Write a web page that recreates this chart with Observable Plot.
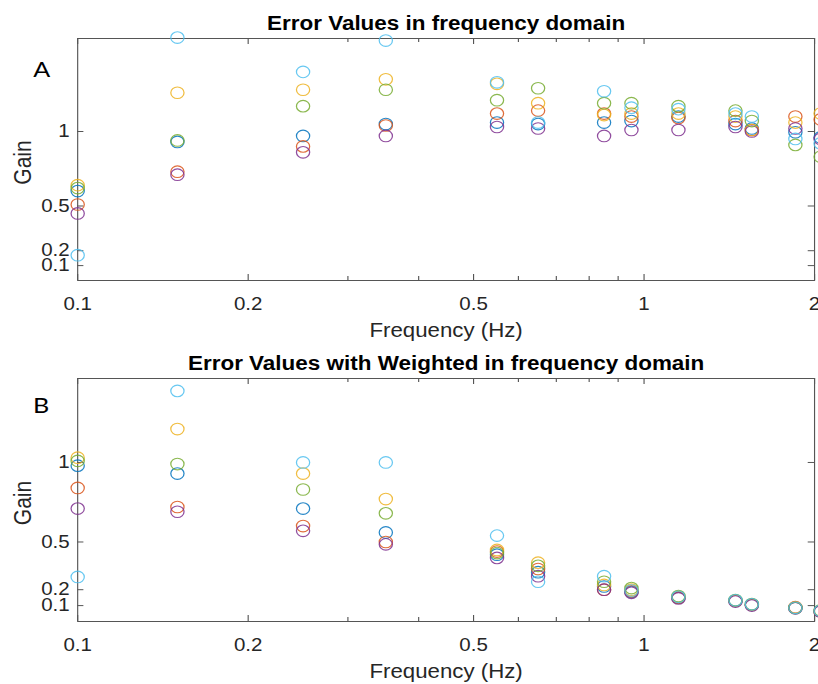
<!DOCTYPE html>
<html>
<head>
<meta charset="utf-8">
<script src="https://cdn.jsdelivr.net/npm/d3@7"></script>
<script src="https://cdn.jsdelivr.net/npm/@observablehq/plot@0.6"></script>
<style>
  html, body { margin: 0; padding: 0; background: #fff; overflow: hidden; }
  #chart { width: 818px; height: 684px; position: relative; }
  #chart svg { display: block; }
</style>
</head>
<body>
<div id="chart"></div>
<script>
// Test frequencies (Hz)
const freqs = [0.1, 0.15, 0.25, 0.35, 0.55, 0.65, 0.85, 0.95, 1.15, 1.45, 1.55, 1.85, 2.05];

// Six runs, MATLAB default colour order
const seriesNames = ["Run 1", "Run 2", "Run 3", "Run 4", "Run 5", "Run 6"];
const seriesColors = ["#0072BD", "#D95319", "#EDB120", "#7E2F8E", "#77AC30", "#4DBEEE"];

// Panel A: gain of the error, unweighted
const gainA1 = [0.60, 0.93, 0.97, 1.05, 1.06, 1.05, 1.06, 1.07, 1.10, 1.05, 1.02, 0.995, 0.96];
const gainA2 = [0.51, 0.73, 0.90, 1.04, 1.12, 1.14, 1.12, 1.10, 1.09, 1.07, 1.01, 1.10, 1.08];
const gainA3 = [0.64, 1.26, 1.28, 1.35, 1.32, 1.19, 1.11, 1.12, 1.12, 1.10, 1.01, 1.06, 1.12];
const gainA4 = [0.45, 0.71, 0.86, 0.97, 1.03, 1.02, 0.97, 1.01, 1.01, 1.03, 1.00, 1.02, 0.95];
const gainA5 = [0.62, 0.94, 1.17, 1.28, 1.21, 1.29, 1.19, 1.19, 1.17, 1.14, 1.07, 0.91, 0.83];
const gainA6 = [0.17, 1.63, 1.40, 1.61, 1.33, 1.06, 1.27, 1.16, 1.15, 1.12, 1.10, 0.95, 0.92];

// Panel B: gain of the error, weighted
const gainB1 = [0.98, 0.93, 0.71, 0.56, 0.42, 0.31, 0.22, 0.185, 0.150, 0.130, 0.105, 0.085, 0.065];
const gainB2 = [0.84, 0.72, 0.60, 0.50, 0.44, 0.33, 0.20, 0.190, 0.150, 0.130, 0.105, 0.090, 0.065];
const gainB3 = [1.03, 1.21, 0.93, 0.77, 0.45, 0.37, 0.23, 0.200, 0.155, 0.130, 0.105, 0.088, 0.065];
const gainB4 = [0.71, 0.69, 0.57, 0.485, 0.40, 0.285, 0.20, 0.180, 0.145, 0.125, 0.100, 0.083, 0.062];
const gainB5 = [1.01, 0.99, 0.83, 0.68, 0.43, 0.35, 0.25, 0.210, 0.160, 0.135, 0.110, 0.085, 0.070];
const gainB6 = [0.28, 1.45, 1.00, 1.00, 0.54, 0.25, 0.285, 0.195, 0.155, 0.133, 0.108, 0.086, 0.067];

// Axis ticks
const xTickLabels = [0.1, 0.2, 0.5, 1, 2];
const xMinorTicks = [0.3, 0.4, 0.6, 0.7, 0.8, 0.9];
const yTickLabels = [0.1, 0.2, 0.5, 1];

const titleA = "Error Values in frequency domain";
const titleB = "Error Values with Weighted in frequency domain";

function tidy(series) {
  return series.flatMap((vals, s) =>
    vals.map((g, i) => ({freq: freqs[i], gain: g, run: seriesNames[s]})));
}

// Figure is laid out in a narrower coordinate system and shown stretched
// horizontally to the full page width.
const STRETCH = 1.14;
const W = 718, H = 342;
const ML = 67.6, MR = 4.4;
const AXIS = "#555555";
const INK = "#262626";
const FONT = "'Liberation Sans', Arial, Helvetica, sans-serif";

function panel({data, yMax, mt, mb, title, letter, letterDx, letterDy}) {
  const fw = W - ML - MR;
  const fh = H - mt - mb;
  const svg = Plot.plot({
    width: W,
    height: H,
    marginLeft: ML,
    marginRight: MR,
    marginTop: mt,
    marginBottom: mb,
    style: {fontFamily: FONT, background: "white", overflow: "visible"},
    x: {type: "log", domain: [0.1, 2]},
    y: {type: "linear", domain: [0, yMax]},
    color: {domain: seriesNames, range: seriesColors},
    marks: [
      // inward major/minor ticks on all four sides
      Plot.tickX(xTickLabels, {x: d => d, insetTop: fh - 6, stroke: AXIS}),
      Plot.tickX(xTickLabels, {x: d => d, insetBottom: fh - 6, stroke: AXIS}),
      Plot.tickX(xMinorTicks, {x: d => d, insetTop: fh - 4, stroke: AXIS}),
      Plot.tickX(xMinorTicks, {x: d => d, insetBottom: fh - 4, stroke: AXIS}),
      Plot.tickY(yTickLabels, {y: d => d, insetRight: fw - 5.5, stroke: AXIS}),
      Plot.tickY(yTickLabels, {y: d => d, insetLeft: fw - 5.5, stroke: AXIS}),
      Plot.axisX({ticks: xTickLabels, tickFormat: d => String(d), tickSize: 0, tickPadding: 17,
                  fontSize: 18, fill: INK, label: null}),
      Plot.axisY({ticks: yTickLabels, tickFormat: d => String(d), tickSize: 0, tickPadding: 7,
                  fontSize: 18, fill: INK, label: null}),
      Plot.frame({stroke: AXIS, strokeWidth: 1}),
      Plot.dot(data, {x: "freq", y: "gain", stroke: "run", r: 5.8, strokeWidth: 1.1, strokeOpacity: 0.85}),
      Plot.text([title], {text: d => d, frameAnchor: "top", dy: -8.5, lineAnchor: "bottom",
                          textAnchor: "middle", fontWeight: "bold", fontSize: 19.7, fill: "#000"}),
      Plot.text(["Frequency (Hz)"], {text: d => d, frameAnchor: "bottom", dy: 56, lineAnchor: "bottom",
                                     textAnchor: "middle", fontSize: 19.5, fill: INK}),
      Plot.text(["Gain"], {text: d => d, frameAnchor: "left", dx: -48, dy: 3, rotate: -90,
                           textAnchor: "middle", lineAnchor: "middle", fontSize: 21, fill: INK}),
      Plot.text([letter], {text: d => d, frameAnchor: "top-left", dx: letterDx, dy: letterDy,
                           textAnchor: "middle", lineAnchor: "bottom", fontFamily: "Lato, 'Open Sans', sans-serif",
                           fontSize: 22, fill: "#000"})
    ]
  });
  svg.setAttribute("preserveAspectRatio", "none");
  svg.setAttribute("width", Math.round(W * STRETCH));
  svg.setAttribute("height", H);
  svg.style.width = Math.round(W * STRETCH) + "px";
  svg.style.height = H + "px";
  svg.style.maxWidth = "none";
  return svg;
}

const chart = document.getElementById("chart");
chart.appendChild(panel({
  data: tidy([gainA1, gainA2, gainA3, gainA4, gainA5, gainA6]),
  yMax: 1.624, mt: 38, mb: 62, title: titleA, letter: "A", letterDx: -31.6, letterDy: 38
}));
chart.appendChild(panel({
  data: tidy([gainB1, gainB2, gainB3, gainB4, gainB5, gainB6]),
  yMax: 1.528, mt: 36, mb: 63, title: titleB, letter: "B", letterDx: -32, letterDy: 34
}));
</script>
</body>
</html>
